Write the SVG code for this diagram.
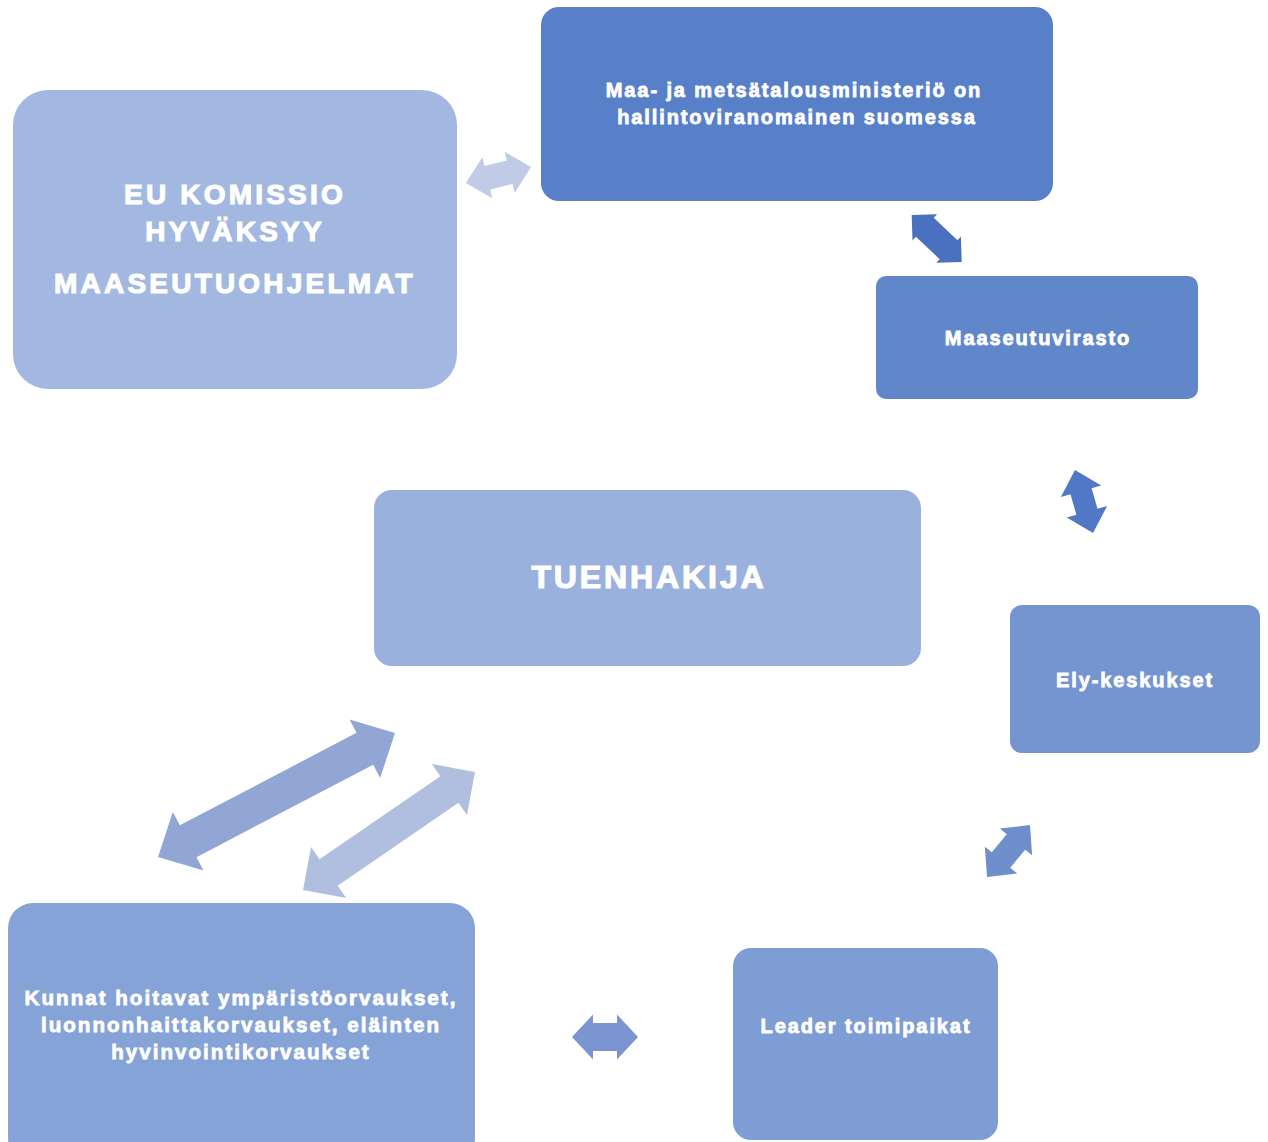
<svg xmlns="http://www.w3.org/2000/svg" width="1268" height="1142" viewBox="0 0 1268 1142">
<style>
.t{font-family:"Liberation Sans",Arial,sans-serif;font-weight:bold;fill:#ffffff;stroke:#ffffff;text-anchor:middle}
.big{font-size:28px;letter-spacing:3.2px;stroke-width:1.1px}
.huge{font-size:32px;letter-spacing:2.9px;stroke-width:1.2px}
.sm{font-size:20px;letter-spacing:1.9px;stroke-width:0.8px}
.kn{font-size:20.6px;letter-spacing:2px;stroke-width:0.8px}
</style>
<rect width="1268" height="1142" fill="#ffffff"/>
<g id="connectors">
<polygon fill="#C1CAE6" transform="translate(498.5,175) rotate(-13.8)" points="-33.5,0 -11.5,-21 -11.5,-12 11.5,-12 11.5,-21 33.5,0 11.5,21 11.5,12 -11.5,12 -11.5,21"/>
<polygon fill="#4A71C0" transform="translate(936.7,238.5) rotate(43.2)" points="-34.3,0 -16.3,-18 -16.3,-13 16.3,-13 16.3,-18 34.3,0 16.3,18 16.3,13 -16.3,13 -16.3,18"/>
<polygon fill="#5078C5" transform="translate(1084,501.5) rotate(74)" points="-32.7,0 -10.7,-21 -10.7,-11 10.7,-11 10.7,-21 32.7,0 10.7,21 10.7,11 -10.7,11 -10.7,21"/>
<polygon fill="#6F8FCC" transform="translate(1008.5,851) rotate(-50.4)" points="-33.7,0 -11.7,-21 -11.7,-12 11.7,-12 11.7,-21 33.7,0 11.7,21 11.7,12 -11.7,12 -11.7,21"/>
<polygon fill="#7A95D2" transform="translate(605,1037)" points="-33,0 -12,-22.5 -12,-14 12,-14 12,-22.5 33,0 12,22.5 12,14 -12,14 -12,22.5"/>
<polygon fill="#92A6D5" transform="translate(276.5,795) rotate(-27.6)" points="-133.7,0 -99.7,-33 -99.7,-18 99.7,-18 99.7,-33 133.7,0 99.7,33 99.7,18 -99.7,18 -99.7,33"/>
<polygon fill="#B0BEE0" transform="translate(389,831) rotate(-34.5)" points="-104.3,0 -73.3,-31 -73.3,-16 73.3,-16 73.3,-31 104.3,0 73.3,31 73.3,16 -73.3,16 -73.3,31"/>
</g>
<g id="eu">
<rect x="13" y="90" width="444" height="299" rx="35" fill="#A3B8E0"/>
<text class="t big" x="235" y="204">EU KOMISSIO</text>
<text class="t big" x="235" y="241">HYVÄKSYY</text>
<text class="t big" x="235" y="293">MAASEUTUOHJELMAT</text>
</g>
<g id="ministerio">
<rect x="541" y="7" width="512" height="194" rx="18" fill="#5780C8"/>
<text class="t sm" x="794" y="97">Maa- ja metsätalousministeriö on</text>
<text class="t sm" x="797" y="124">hallintoviranomainen suomessa</text>
</g>
<g id="maaseutuvirasto">
<rect x="876" y="276" width="322" height="123" rx="10" fill="#6187CB"/>
<text class="t sm" x="1038" y="345">Maaseutuvirasto</text>
</g>
<g id="tuenhakija">
<rect x="374" y="490" width="547" height="176" rx="18" fill="#9AB1DE"/>
<text class="t huge" x="649" y="588">TUENHAKIJA</text>
</g>
<g id="ely">
<rect x="1010" y="605" width="250" height="148" rx="12" fill="#7495D0"/>
<text class="t sm" x="1135" y="687">Ely-keskukset</text>
</g>
<g id="leader">
<rect x="733" y="948" width="265" height="192" rx="18" fill="#7E9DD4"/>
<text class="t sm" x="866" y="1033">Leader toimipaikat</text>
</g>
<g id="kunnat">
<rect x="8" y="903" width="467" height="260" rx="25" fill="#85A3D7"/>
<text class="t kn" x="241" y="1005">Kunnat hoitavat ympäristöorvaukset,</text>
<text class="t kn" x="241" y="1032">luonnonhaittakorvaukset, eläinten</text>
<text class="t kn" x="241" y="1059">hyvinvointikorvaukset</text>
</g>
</svg>
